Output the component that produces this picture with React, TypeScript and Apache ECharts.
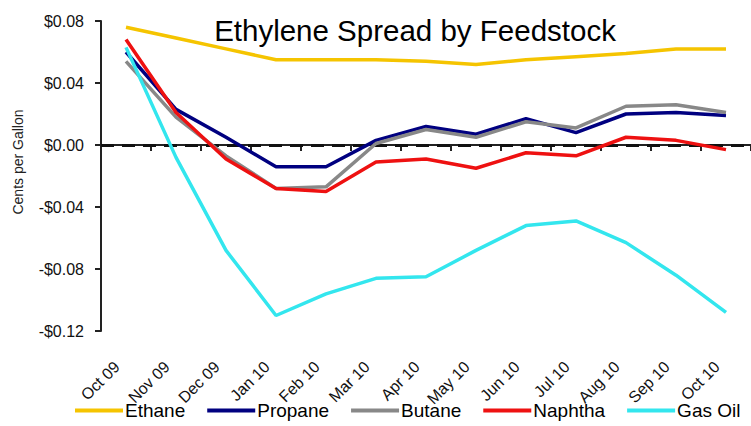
import React, { useEffect, useRef } from "react";
import * as echarts from "echarts";

const categories = ["Oct 09", "Nov 09", "Dec 09", "Jan 10", "Feb 10", "Mar 10", "Apr 10", "May 10", "Jun 10", "Jul 10", "Aug 10", "Sep 10", "Oct 10"];
const ethane = [0.076, 0.069, 0.062, 0.055, 0.055, 0.055, 0.054, 0.052, 0.055, 0.057, 0.059, 0.062, 0.062];
const propane = [0.06, 0.023, 0.005, -0.014, -0.014, 0.003, 0.012, 0.007, 0.017, 0.008, 0.02, 0.021, 0.019];
const butane = [0.054, 0.018, -0.007, -0.028, -0.027, 0.001, 0.01, 0.005, 0.015, 0.011, 0.025, 0.026, 0.021];
const naphtha = [0.068, 0.021, -0.009, -0.028, -0.03, -0.011, -0.009, -0.015, -0.005, -0.007, 0.005, 0.003, -0.003];
const gasOil = [0.063, -0.008, -0.068, -0.11, -0.096, -0.086, -0.085, -0.068, -0.052, -0.049, -0.063, -0.084, -0.108];

const seriesNames = ["Ethane", "Propane", "Butane", "Naphtha", "Gas Oil"];
const seriesColors = ["#F5C400", "#000080", "#888888", "#EE1111", "#33E6EE"];
const seriesData = [ethane, propane, butane, naphtha, gasOil];

const FONT = "Arial, 'Liberation Sans', sans-serif";

export default function App() {
  const ref = useRef<HTMLDivElement>(null);
  useEffect(() => {
    if (!ref.current) return;
    const chart = echarts.init(ref.current, undefined, { renderer: "svg" });
    chart.setOption({
      animation: false,
      backgroundColor: "#ffffff",
      title: {
        text: "Ethylene Spread by Feedstock",
        left: 410,
        top: 10,
        textAlign: "center",
        textStyle: { fontFamily: FONT, fontSize: 29.5, fontWeight: "normal", color: "#000" },
      },
      graphic: [
        {
          type: "text",
          x: 18,
          y: 162,
          rotation: Math.PI / 2,
          style: {
            text: "Cents per Gallon",
            font: `14px ${FONT}`,
            fill: "#222",
            align: "center",
            verticalAlign: "middle",
          },
        },
      ],
      legend: {
        data: seriesNames,
        left: 75,
        width: 690,
        top: 401,
        icon: "rect",
        itemWidth: 48,
        itemHeight: 4,
        itemGap: 22,
        padding: 0,
        textStyle: { fontFamily: FONT, fontSize: 19, color: "#000", padding: [0, 0, 0, -3] },
      },
      grid: { left: 101, top: 21, width: 656, height: 310, containLabel: false },
      xAxis: {
        type: "category",
        data: categories,
        boundaryGap: true,
        axisLine: { show: true, lineStyle: { color: "#222", width: 2 } },
        axisTick: { show: true, length: 6, lineStyle: { color: "#222", width: 2 } },
        axisLabel: {
          rotate: 45,
          interval: 0,
          margin: 24,
          padding: [0, 13, 0, 0],
          fontFamily: FONT,
          fontSize: 16,
          color: "#111",
        },
        splitLine: { show: false },
      },
      yAxis: {
        type: "value",
        min: -0.12,
        max: 0.08,
        interval: 0.04,
        axisLine: { show: true, lineStyle: { color: "#222", width: 2 } },
        axisTick: { show: true, length: 6, lineStyle: { color: "#222", width: 2 } },
        axisLabel: {
          margin: 17,
          fontFamily: FONT,
          fontSize: 16,
          color: "#111",
          formatter: (v: number) => (v < -1e-9 ? "-" : "") + "$" + Math.abs(v).toFixed(2),
        },
        splitLine: { show: false },
      },
      series: seriesNames.map((name, i) => ({
        name,
        type: "line",
        data: seriesData[i],
        symbol: "none",
        showSymbol: false,
        lineStyle: { color: seriesColors[i], width: 3.5 },
        itemStyle: { color: seriesColors[i] },
        z: 3 + i,
        ...(i === 0
          ? {
              markLine: {
                silent: true,
                symbol: "none",
                label: { show: false },
                lineStyle: { color: "#111", width: 3, type: [13, 8] },
                data: [{ yAxis: 0 }],
                z: 2,
              },
            }
          : {}),
      })),
    });
    return () => chart.dispose();
  }, []);
  return <div ref={ref} style={{ width: 751, height: 426, position: "absolute", left: 0, top: 0 }} />;
}
